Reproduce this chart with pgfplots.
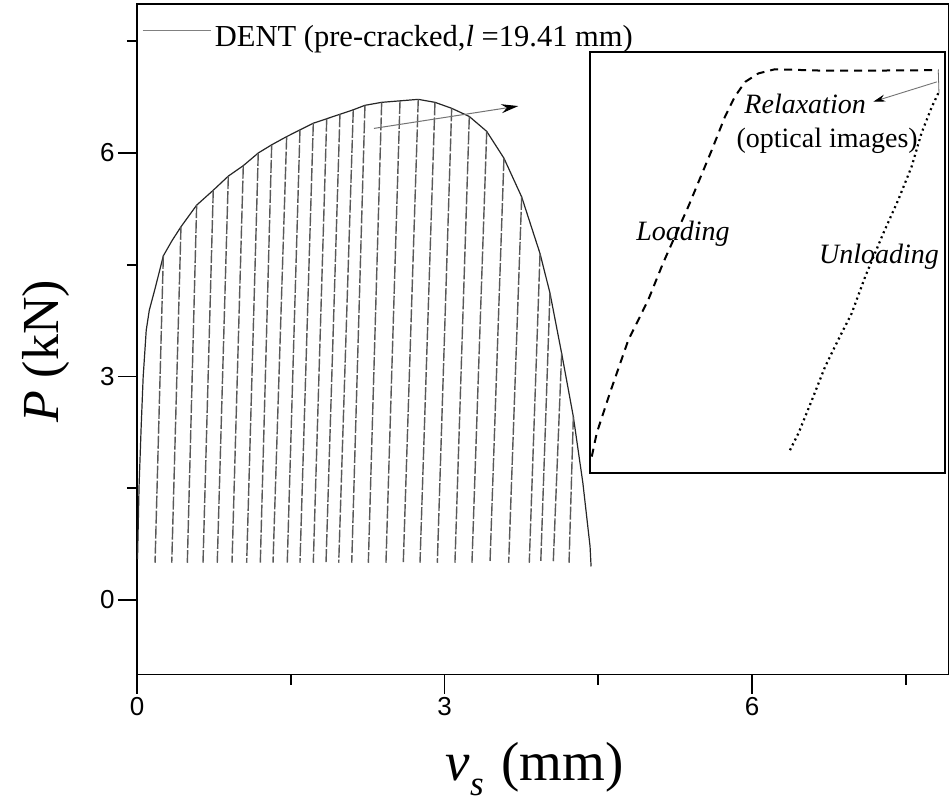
\documentclass[border=0pt]{standalone}
\usepackage{fontspec}
\setmainfont{Liberation Serif}
\setsansfont{Liberation Sans}
\usepackage{pgfplots}
\pgfplotsset{compat=1.18}
\usetikzlibrary{arrows.meta}

\begin{document}
\begin{tikzpicture}
\path[use as bounding box] (0,0) rectangle (949bp,805bp);

% ---------------- main load-displacement plot ----------------
\begin{axis}[
  at={(137bp,130.5bp)}, anchor=south west,
  scale only axis, width=811.8bp, height=670.5bp,
  xmin=0, xmax=7.92, ymin=-1, ymax=8,
  xtick={0,3,6}, ytick={0,3,6},
  minor xtick={1.5,4.5,7.5}, minor ytick={1.5,4.5,7.5},
  xtick pos=bottom, ytick pos=left, tick align=outside,
  major tick length=19bp, minor tick length=10bp,
  tick style={black, line width=1.8bp},
  axis line style={line width=1.6bp},
  tick label style={font=\fontsize{26bp}{30bp}\selectfont\sffamily},
  /pgf/number format/assume math mode=true,
  every axis x label/.style={at={(axis description cs:0.49,-0.158)}, anchor=base,
    font=\fontsize{55bp}{62bp}\selectfont},
  every axis y label/.style={at={(axis description cs:-0.0973,0.4817)}, anchor=base,
    rotate=90, font=\fontsize{52bp}{60bp}\selectfont},
  xlabel={\textit{v}\raisebox{-15bp}{\fontsize{35bp}{40bp}\selectfont\textit{s}}\hspace{4bp} (mm)},
  ylabel={\textit{P} (kN)},
  legend style={at={(axis description cs:0.006,0.975)}, anchor=north west,
    draw=none, fill=none, font=\fontsize{30.5bp}{34bp}\selectfont,
    inner sep=0pt, row sep=0pt, nodes={inner sep=4bp}},
  legend image code/.code={\draw[black!50, line width=0.9bp] (0bp,6bp) -- (68bp,6bp);},
  unbounded coords=jump,
  clip=false,
]

% envelope of the cyclic test
\addplot[black!85, line width=1.2bp] coordinates {
  (0.005,0.55) (0.012,1.00) (0.02,1.52) (0.04,2.30) (0.06,2.99) (0.09,3.62)
  (0.12,3.89) (0.18,4.20) (0.257,4.62) (0.34,4.82) (0.429,5.01) (0.582,5.30)
  (0.744,5.50) (0.891,5.69) (1.037,5.83) (1.183,6.00) (1.314,6.11) (1.460,6.22)
  (1.590,6.31) (1.720,6.40) (1.851,6.46) (1.980,6.52) (2.110,6.58) (2.224,6.64)
  (2.387,6.68) (2.566,6.70) (2.744,6.72) (2.907,6.68) (3.070,6.60) (3.242,6.49)
  (3.412,6.29) (3.580,5.93) (3.753,5.41) (3.932,4.65) (4.029,4.12) (4.143,3.31)
  (4.257,2.46) (4.35,1.57) (4.42,0.72) (4.43,0.45)
};
\addlegendentry{DENT (pre-cracked,\textit{l} =19.41 mm)}

% unloading / reloading branches
\addplot[forget plot, black!65, line width=1.4bp, dash pattern=on 13bp off 2bp] coordinates {
  (0.257,4.62) (0.176,0.5) (nan,nan)
  (0.429,5.01) (0.339,0.5) (nan,nan)
  (0.582,5.30) (0.491,0.5) (nan,nan)
  (0.744,5.50) (0.644,0.5) (nan,nan)
  (0.891,5.69) (0.783,0.5) (nan,nan)
  (1.037,5.83) (0.927,0.5) (nan,nan)
  (1.183,6.00) (1.070,0.5) (nan,nan)
  (1.314,6.11) (1.203,0.5) (nan,nan)
  (1.460,6.22) (1.327,0.5) (nan,nan)
  (1.590,6.31) (1.466,0.5) (nan,nan)
  (1.720,6.40) (1.590,0.5) (nan,nan)
  (1.851,6.46) (1.720,0.5) (nan,nan)
  (1.980,6.52) (1.844,0.5) (nan,nan)
  (2.110,6.58) (1.968,0.5) (nan,nan)
  (2.224,6.64) (2.095,0.5) (nan,nan)
  (2.387,6.68) (2.257,0.5) (nan,nan)
  (2.566,6.70) (2.429,0.5) (nan,nan)
  (2.744,6.72) (2.598,0.5) (nan,nan)
  (2.907,6.68) (2.761,0.5) (nan,nan)
  (3.070,6.60) (2.930,0.5) (nan,nan)
  (3.242,6.49) (3.102,0.5) (nan,nan)
  (3.412,6.29) (3.268,0.5) (nan,nan)
  (3.580,5.93) (3.444,0.5) (nan,nan)
  (3.753,5.41) (3.626,0.5) (nan,nan)
  (3.932,4.65) (3.827,0.5) (nan,nan)
  (4.029,4.12) (3.939,0.5) (nan,nan)
  (4.143,3.31) (4.061,0.5) (nan,nan)
  (4.257,2.46) (4.215,0.5)
};

\draw[black!55, line width=1bp, -{Stealth[black, length=17bp, width=9bp]}]
  (axis cs:2.312,6.33) -- (axis cs:3.72,6.63);

% long outward major ticks on the bottom and left spines
\pgfplotsinvokeforeach{0,3,6}{
  \draw[black, line width=1.8bp] (axis cs:#1,-1) -- ++(0bp,-19bp);
  \draw[black, line width=1.8bp] (axis cs:0,#1) -- ++(-19bp,0bp);
}
\end{axis}

% ---------------- inset: one loading cycle ----------------
\begin{axis}[
  at={(590bp,332bp)}, anchor=south west,
  scale only axis, width=355bp, height=421bp,
  xmin=0, xmax=100, ymin=0, ymax=100,
  xtick=\empty, ytick=\empty,
  axis line style={line width=1.6bp},
  axis background/.style={fill=white},
  clip=false,
]
\addplot[black, line width=2bp, dash pattern=on 8bp off 6bp] coordinates {
  (0.5,3.9) (1.9,9.5) (5.6,19.0) (10.8,31.6) (16.4,41.1) (20.6,49.9)
  (27.7,63.3) (34.3,76.7) (38.0,84.6) (40.8,89.4) (43.7,92.9) (47.4,94.9)
  (52.1,95.9) (64.3,95.6) (83.1,95.6) (98.1,95.7)
};
\addplot[black!60, line width=0.8bp] coordinates {(98.1,95.7) (98.3,90.2)};
\addplot[black, line width=2.2bp, dash pattern=on 2bp off 3.5bp] coordinates {
  (98.1,90.2) (96.3,87.0) (93.4,80.8) (90.6,72.8) (86.8,64.8) (82.6,56.9)
  (77.5,46.6) (73.7,37.9) (69.9,31.6) (66.2,25.2) (62.5,17.3) (58.7,9.4)
  (55.9,4.7)
};
\draw[black!55, line width=0.9bp, -{Stealth[black, length=12bp, width=7bp]}]
  (axis cs:97.7,92.9) -- (axis cs:79.8,88.2);
\node[font=\fontsize{28bp}{32bp}\selectfont\itshape] at (axis cs:60.6,87.6) {Relaxation};
\node[font=\fontsize{28bp}{32bp}\selectfont] at (axis cs:66.8,78.9) {(optical images)};
\node[font=\fontsize{28bp}{32bp}\selectfont\itshape] at (axis cs:26.2,56.8) {Loading};
\node[font=\fontsize{28bp}{32bp}\selectfont\itshape] at (axis cs:81.4,51.3) {Unloading};
\end{axis}
\end{tikzpicture}
\end{document}
